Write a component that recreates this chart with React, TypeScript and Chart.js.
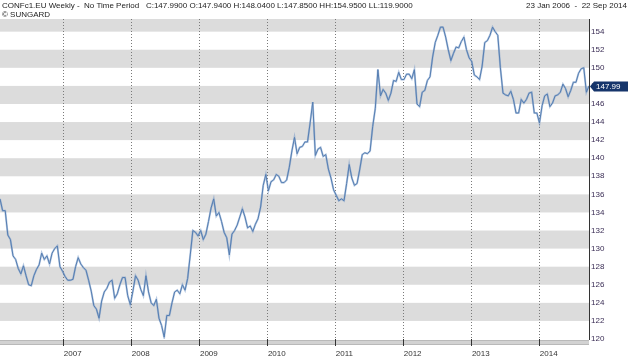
import React, { useEffect, useRef } from "react";
import { Chart, registerables } from "chart.js";

Chart.register(...registerables);

const symbolTitle =
  "CONFc1.EU Weekly -  No Time Period   C:147.9900 O:147.9400 H:148.0400 L:147.8500 HH:154.9500 LL:119.9000";
const sourceLine = "© SUNGARD";
const dateRange = "23 Jan 2006  -  22 Sep 2014";

const startDate = Date.UTC(2006, 0, 23);
const endDate = Date.UTC(2014, 8, 22);
const stepDays = 14;

const closes = [
  135.5, 134.2, 134.2, 131.5, 131.0, 129.2, 128.8, 127.8, 127.2, 128.1,
  127.0, 126.0, 125.9, 127.0, 127.7, 128.2, 129.5, 128.8, 129.2, 128.3,
  129.5, 130.0, 130.3, 128.0, 127.5, 126.9, 126.5, 126.5, 126.6, 128.0,
  129.0, 128.3, 127.9, 127.6, 126.5, 125.3, 123.7, 123.3, 122.3, 124.2,
  125.2, 125.6, 126.3, 126.5, 124.5, 125.0, 126.0, 126.8, 126.8, 124.8,
  123.8, 125.3, 127.0, 126.5, 125.5, 124.8, 127.0, 125.2, 124.0, 123.7,
  124.4, 122.3, 121.5, 120.2, 122.6, 122.6, 124.0, 125.2, 125.4, 125.0,
  126.0, 125.4, 126.7, 129.3, 132.0, 131.8, 131.4, 132.0, 131.0, 131.6,
  133.0, 134.5, 135.5, 133.6, 134.0, 133.0, 131.8, 131.2, 129.3, 131.6,
  132.0, 132.6, 133.5, 134.4, 133.5, 132.3, 132.5, 131.9, 132.7, 133.3,
  134.6, 137.0, 138.2, 136.4, 137.4, 137.6, 138.2, 138.0, 137.3, 137.3,
  137.6, 139.0, 140.8, 142.3, 140.5, 141.2, 141.3, 141.8, 141.8, 143.9,
  146.2, 140.3, 141.0, 141.2, 140.2, 140.4, 138.8, 137.8, 136.5, 135.9,
  135.3, 135.5, 135.3, 137.2, 139.3, 137.8, 137.0, 137.2, 138.7, 140.4,
  140.6, 140.5, 140.8, 143.5, 145.5, 149.8, 146.9, 147.6, 147.2, 146.4,
  147.2, 148.6, 148.5, 149.5, 148.7, 148.7, 149.3, 149.3, 148.8, 149.8,
  146.0, 145.7, 147.3, 147.5, 148.6, 149.0, 151.2, 152.8, 153.6, 154.5,
  154.5, 153.4, 152.0, 150.8, 151.6, 152.3, 152.2, 152.9, 153.4, 152.0,
  151.1, 150.7, 149.2, 149.0, 148.7, 150.2, 152.8, 153.0, 153.6, 154.5,
  154.0, 153.6, 150.0, 147.2, 147.0, 146.9, 147.4, 146.5, 145.0, 145.0,
  146.5, 146.1, 146.5, 147.2, 147.3, 145.0, 145.0, 143.9, 145.8, 146.9,
  147.1, 145.7, 146.1, 146.9, 147.0, 147.3, 148.2, 147.7, 146.8, 147.5,
  148.4, 148.4, 149.4, 149.9, 150.0, 147.3, 147.99,
];

const lastClose = 147.99;
const yearLabels = ["2007", "2008", "2009", "2010", "2011", "2012", "2013", "2014"];
const yTicks = [120, 122, 124, 126, 128, 130, 132, 134, 136, 138, 140, 142, 144, 146, 148, 150, 152, 154];
const yMin = 120;
const yMax = 155.4;

const DAY = 86400000;
const yearDay = (y: string) => (Date.UTC(Number(y), 0, 1) - startDate) / DAY;
const totalDays = (endDate - startDate) / DAY;

const FONT = "'Liberation Sans', Arial, sans-serif";

const bandsPlugin = {
  id: "bands",
  beforeDraw(chart: any) {
    const { ctx, chartArea } = chart;
    const ys = chart.scales.y;
    ctx.save();
    ctx.beginPath();
    ctx.rect(chartArea.left, chartArea.top, chartArea.right - chartArea.left, chartArea.bottom - chartArea.top);
    ctx.clip();
    ctx.fillStyle = "#dcdcdc";
    for (const v of yTicks) {
      if ((v - 2) % 4 === 0) {
        const y1 = ys.getPixelForValue(v + 2);
        const y2 = ys.getPixelForValue(v);
        ctx.fillRect(chartArea.left, y1, chartArea.right - chartArea.left, y2 - y1);
      }
    }
    ctx.restore();
    // x-axis bar
    ctx.save();
    const top = chartArea.bottom + 1;
    ctx.fillStyle = "#d2d2d2";
    ctx.fillRect(chartArea.left, top, chartArea.right - chartArea.left, 4);
    ctx.fillStyle = "#b9b9b9";
    ctx.fillRect(chartArea.left, top, chartArea.right - chartArea.left, 1);
    ctx.fillRect(chartArea.left, top + 4, chartArea.right - chartArea.left, 1);
    ctx.restore();
  },
};

const priceTagPlugin = {
  id: "priceTag",
  afterDraw(chart: any) {
    const { ctx, chartArea } = chart;
    const y = Math.round(chart.scales.y.getPixelForValue(lastClose)) + 0.5;
    const x0 = chartArea.right + 1;
    ctx.save();
    ctx.fillStyle = "#16356b";
    ctx.beginPath();
    ctx.moveTo(x0, y);
    ctx.lineTo(x0 + 4, y - 5);
    ctx.lineTo(chart.width, y - 5);
    ctx.lineTo(chart.width, y + 5);
    ctx.lineTo(x0 + 4, y + 5);
    ctx.closePath();
    ctx.fill();
    ctx.fillStyle = "#ffffff";
    ctx.font = `8px ${FONT}`;
    ctx.textBaseline = "middle";
    ctx.textAlign = "left";
    ctx.fillText(lastClose.toFixed(2), x0 + 6, y + 0.5);
    ctx.restore();
  },
};

export default function App() {
  const canvasRef = useRef<HTMLCanvasElement | null>(null);

  useEffect(() => {
    const canvas = canvasRef.current;
    if (!canvas) return;
    const points = closes.map((v, i) => ({ x: i * stepDays, y: v }));
    const chart = new Chart(canvas, {
      type: "line",
      data: {
        datasets: [
          {
            data: points,
            borderColor: "rgba(120,155,200,0.55)",
            borderWidth: 2,
            pointRadius: 0,
            tension: 0,
          },
          {
            data: points,
            borderColor: "#2a5a96",
            borderWidth: 1,
            pointRadius: 0,
            tension: 0,
          },
        ],
      },
      options: {
        animation: false,
        responsive: false,
        maintainAspectRatio: false,
        layout: { padding: { top: 19, left: 0, right: 0, bottom: 0 } },
        plugins: { legend: { display: false }, title: { display: false }, tooltip: { enabled: false } },
        scales: {
          x: {
            type: "linear",
            min: 0,
            max: totalDays,
            afterBuildTicks: (scale: any) => {
              scale.ticks = yearLabels.map((y) => ({ value: yearDay(y) }));
            },
            afterFit: (scale: any) => {
              scale.height = 19;
            },
            ticks: {
              align: "start",
              maxRotation: 0,
              autoSkip: false,
              padding: 3,
              color: "#333333",
              font: { family: FONT, size: 8 },
              callback: (value: any) => {
                const idx = yearLabels.findIndex((y) => Math.abs(yearDay(y) - value) < 0.5);
                return idx >= 0 ? yearLabels[idx] : "";
              },
            },
            grid: {
              display: true,
              drawOnChartArea: true,
              drawTicks: true,
              tickLength: 7,
              color: "#7a7a7a",
              lineWidth: 1,
              tickColor: "#333333",
              tickWidth: 1,
            },
            border: { display: false, dash: [1, 2] },
          },
          y: {
            type: "linear",
            position: "right",
            min: yMin,
            max: yMax,
            afterBuildTicks: (scale: any) => {
              scale.ticks = yTicks.map((v) => ({ value: v }));
            },
            afterFit: (scale: any) => {
              scale.width = 39;
            },
            ticks: {
              padding: 2,
              color: "#3a2d55",
              font: { family: FONT, size: 8 },
              callback: (value: any) => String(value),
            },
            grid: { display: true, drawOnChartArea: false, drawTicks: false },
            border: { display: true, color: "#333333", width: 1 },
          },
        },
      },
      plugins: [bandsPlugin, priceTagPlugin],
    } as any);
    return () => chart.destroy();
  }, []);

  const textStyle: React.CSSProperties = {
    position: "absolute",
    fontFamily: FONT,
    fontSize: "8px",
    color: "#222",
    whiteSpace: "pre",
    lineHeight: "9px",
  };

  return (
    <div style={{ position: "fixed", left: 0, top: 0, width: 628, height: 358, background: "#fff", overflow: "hidden" }}>
      <canvas ref={canvasRef} width={628} height={358} style={{ position: "absolute", left: 0, top: 0, width: 628, height: 358 }} />
      <div style={{ ...textStyle, left: 2, top: 1 }}>{symbolTitle}</div>
      <div style={{ ...textStyle, left: 2, top: 10 }}>{sourceLine}</div>
      <div style={{ ...textStyle, right: 1, top: 1 }}>{dateRange}</div>
    </div>
  );
}
